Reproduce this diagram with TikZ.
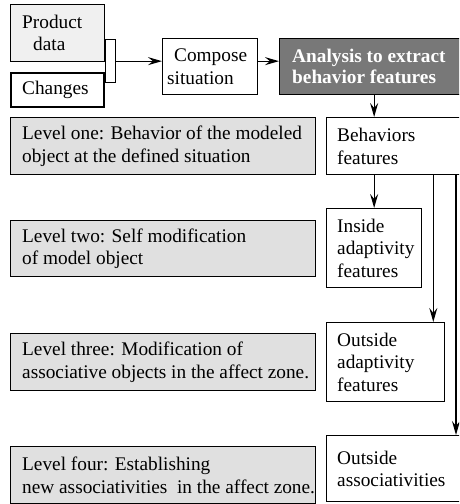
\documentclass[tikz,border=0pt]{standalone}
\usepackage{fontspec}
\setmainfont{Liberation Serif}
\usetikzlibrary{arrows.meta,calc}
\definecolor{datafill}{RGB}{240,240,240}
\definecolor{levelfill}{RGB}{224,224,224}
\definecolor{analysisfill}{RGB}{120,120,120}
\begin{document}
\begin{tikzpicture}[x=1pt,y=-1pt,
  every node/.style={font=\fontsize{19.3}{22.5}\selectfont},
  box/.style={draw=black,line width=1.3pt,rectangle,inner sep=0pt,anchor=north west},
  lbl/.style={anchor=west,align=left,inner sep=0pt},
  arr/.style={line width=1.3pt,-{Stealth[length=14pt,width=8pt,inset=5pt]}}]
\useasboundingbox (0,0) rectangle (459,504);
\clip (0,0) rectangle (459,504);

% inputs
\node[box,fill=datafill,line width=1pt,minimum width=94,minimum height=57] (prod) at (10,4) {};
\node[box,fill=white,line width=1.6pt,minimum width=93,minimum height=34] (chg) at (10,72) {};
\node[box,fill=white,minimum width=10,minimum height=43] (brk) at (105,39) {};
\node[lbl] (prodt) at ($(prod.west)+(12,0)$) {Product\\\hspace*{11pt}data};
\node[lbl] (chgt) at ($(chg.west)+(12,0)$) {Changes};

% processing
\node[box,fill=white,minimum width=95,minimum height=56] (comp) at (162,38) {};
\node[lbl] (compt) at ($(comp.west)+(5,0)$) {\hspace*{7pt}Compose\\situation};
\node[box,fill=analysisfill,minimum width=190,minimum height=56] (ana) at (279,38) {};
\node[lbl,text=white,font=\fontsize{19.3}{21.5}\selectfont\bfseries] (anat) at ($(ana.west)+(13,0)$) {Analysis to extract\\behavior features};

% feature column
\node[box,fill=white,minimum width=145,minimum height=57] (beh) at (326,117) {};
\node[lbl] (beht) at ($(beh.west)+(11,0)$) {Behaviors\\features};
\node[box,fill=white,minimum width=95,minimum height=79] (ins) at (326,208) {};
\node[lbl] (inst) at ($(ins.west)+(11,0)$) {Inside\\adaptivity\\features};
\node[box,fill=white,minimum width=118,minimum height=79] (oad) at (326,322) {};
\node[lbl] (oadt) at ($(oad.west)+(11,0)$) {Outside\\adaptivity\\features};
\node[box,fill=white,minimum width=145,minimum height=66] (oas) at (326,435) {};
\node[lbl] (oast) at ($(oas.west)+(11,0)$) {Outside\\associativities};

% level descriptions
\node[box,fill=levelfill,minimum width=305,minimum height=57] (l1) at (10,117) {};
\node[lbl] (l1t) at ($(l1.west)+(12,0)$) {Level one: Behavior of the modeled\\object at the defined situation};
\node[box,fill=levelfill,minimum width=305,minimum height=56] (l2) at (10,220) {};
\node[lbl] (l2t) at ($(l2.west)+(12,0)$) {Level two: Self modification\\of model object};
\node[box,fill=levelfill,minimum width=305,minimum height=57] (l3) at (10,333) {};
\node[lbl] (l3t) at ($(l3.west)+(12,0)$) {Level three: Modification of\\associative objects in the affect zone.};
\node[box,fill=levelfill,minimum width=305,minimum height=57] (l4) at (10,446) {};
\node[lbl] (l4t) at ($(l4.west)+(12,0)$) {Level four: Establishing\\new associativities\ \ in the affect zone.};

% connectors
\draw[arr] (brk.east) -- (brk.east -| comp.west);
\draw[arr] (comp.east |- brk.east) -- (ana.west |- brk.east);
\draw[arr] (ins.north |- ana.south) -- (ins.north |- beh.north);
\draw[arr] (ins.north |- beh.south) -- (ins.north);
\coordinate (toad) at ($(oad.north east)+(-12,0)$);
\draw[arr] (toad |- beh.south) -- (toad);
\coordinate (toas) at ($(oas.north west)+(130,0)$);
\draw[arr] (toas |- beh.south) -- (toas);
\end{tikzpicture}
\end{document}
